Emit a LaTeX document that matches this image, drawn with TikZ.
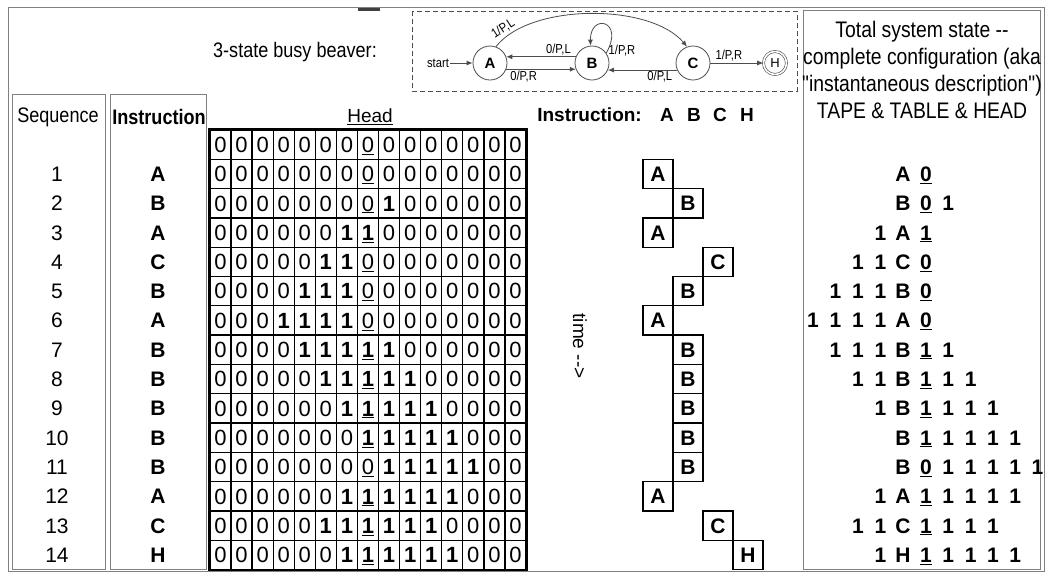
\documentclass[tikz,border=0pt]{standalone}
\usepackage{fontspec}
\setmainfont{Liberation Sans}
\newfontfamily\narrowsf[FakeStretch=0.86]{Liberation Sans}
\usetikzlibrary{arrows.meta,positioning}

% one tape square: #1 = bit, #2 = column (head sits in column 7)
\newcommand{\tapedigit}[2]{%
  \ifnum#2=7 \underline{\ifnum#1=1 \textbf{1}\else 0\fi}%
  \else\ifnum#1=1 \textbf{1}\else 0\fi\fi}

\begin{document}
\begin{tikzpicture}[x=1pt,y=-1pt,
    panel/.style={draw=black!50,line width=0.9pt},
    cell/.style={draw,line width=1.3pt,minimum width=21.07pt,minimum height=29.3pt,
      inner sep=0pt,font=\fontsize{22}{24}\selectfont,text height=15.6pt,text depth=0pt},
    listtext/.style={inner sep=0pt,font=\fontsize{21}{24}\selectfont,
      text height=15pt,text depth=0pt},
    insbox/.style={draw,line width=1.3pt,minimum width=30pt,minimum height=29.3pt,
      inner sep=0pt,font=\bfseries\fontsize{21}{24}\selectfont,text height=15pt,text depth=0pt},
    cfg/.style={inner sep=0pt,font=\bfseries\fontsize{21}{24}\selectfont,
      text height=15pt,text depth=0pt},
    headtext/.style={inner sep=0pt,font=\narrowsf\fontsize{21}{24}\selectfont},
    state/.style={circle,draw=black!70,line width=0.8pt,minimum size=34pt,inner sep=0pt,
      font=\bfseries\fontsize{15}{16}\selectfont},
    halt/.style={circle,draw=black!70,double,line width=0.6pt,double distance=1.6pt,
      minimum size=23pt,inner sep=0pt,font=\fontsize{13}{14}\selectfont},
    fsm/.style={-{Latex[length=6pt,width=5pt]},draw=black!70,line width=0.8pt},
    fsmlabel/.style={inner sep=1pt,font=\narrowsf\fontsize{13}{14}\selectfont}
  ]
  \useasboundingbox (0,0) rectangle (1046,574);

  % frames
  \draw[panel] (8,7) rectangle (1044,571);
  \draw[panel] (12,94) rectangle (105,569);
  \draw[panel] (110,94) rectangle (206,569);
  \draw[panel] (803,10) rectangle (1040,569);
  \draw[line width=3pt,black!75] (358,9.5) -- (380,9.5);

  % state diagram
  \node[headtext,anchor=east,font=\narrowsf\fontsize{21}{24}\selectfont] (bbtitle) at (377,52) {3-state busy beaver:};
  \draw[dashed,dash pattern=on 5pt off 3pt,black!70,line width=0.8pt] (412,11) rectangle (797,91);
  \node[state] (A) at (490,63) {A};
  \node[state] (B) at (592,63) {B};
  \node[state] (C) at (693,63) {C};
  \node[halt] (H) at (775,63) {H};
  \node[fsmlabel] (start) at (438,63) {start};
  \draw[fsm] (start) -- (A);
  \draw[fsm] (A.-21) -- node[fsmlabel,pos=0.25,below] {0/P,R} (B.201);
  \draw[fsm] (B.159) -- node[fsmlabel,pos=0.25,above] {0/P,L} (A.21);
  \draw[fsm] (C.204) -- node[fsmlabel,pos=0.25,below] {0/P,L} (B.-24);
  \draw[fsm] (C) -- node[fsmlabel,pos=0.35,above] {1/P,R} (H);
  \draw[fsm] (A.70) .. controls (530,3) and (650,3) .. (C.110);
  \node[fsmlabel,rotate=33] (lblAC) at (503,29) {1/P,L};
  \draw[fsm] (B.35) .. controls (625,20) and (590,13) .. node[fsmlabel,pos=0.02,right] {1/P,R} (B.95);

  % column headings
  \node[headtext] (seqhead) at (58,117) {Sequence};
  \node[headtext,font=\narrowsf\bfseries\fontsize{21}{24}\selectfont] (inshead) at (159,117) {Instruction};
  \node[inner sep=0pt,font=\fontsize{19}{22}\selectfont] (head) at (370,117) {\underline{Head}};
  \node[inner sep=0pt,anchor=east,font=\bfseries\fontsize{19}{22}\selectfont] (timehead) at (642,115) {Instruction:};
  \foreach \l/\hx in {A/667,B/694,C/720,H/747}
    \node[inner sep=0pt,font=\bfseries\fontsize{19}{22}\selectfont] (timehead-\l) at (\hx,115) {\l};
  \node[headtext,align=center,font=\narrowsf\fontsize{22.5}{27}\selectfont] (totalhead) at (922,70)
    {Total system state -{}-\\complete configuration (aka\\"instantaneous description")\\TAPE \& TABLE \& HEAD};

  % the tape, row 0 is the blank start
  \foreach \r/\lo/\hi in {0/99/0,1/99/0,2/8/8,3/6/7,4/5/6,5/4/6,6/3/6,7/4/8,8/5/9,9/6/10,
      10/7/11,11/8/12,12/6/11,13/5/10,14/6/11}{
    \pgfmathsetmacro{\y}{144.65+29.3*\r}
    \foreach \c in {0,...,14}{
      \pgfmathtruncatemacro{\bit}{and(\c>=\lo,\c<=\hi)}
      \node[cell] (t-\r-\c) at ({220.5+21.07*\c},\y) {\tapedigit{\bit}{\c}};
    }
  }
  \draw[line width=2.2pt] (t-0-0.north west) rectangle (t-14-14.south east);

  % sequence, instruction, time line and configurations
  \foreach \k/\s/\col/\lft/\hd/\rgt in {1/A/0/0/0/0,2/B/1/0/0/1,3/A/0/1/1/0,4/C/2/2/0/0,
      5/B/1/3/0/0,6/A/0/4/0/0,7/B/1/3/1/1,8/B/1/2/1/2,9/B/1/1/1/3,10/B/1/0/1/4,
      11/B/1/0/0/5,12/A/0/1/1/4,13/C/2/2/1/3,14/H/3/1/1/4}{
    \pgfmathsetmacro{\y}{144.65+29.3*\k}
    \node[listtext] (seq-\k) at (57,\y) {\k};
    \node[listtext,font=\bfseries\fontsize{21}{24}\selectfont] (instr-\k) at (158,\y) {\s};
    \node[insbox] (box-\k) at ({658+30*\col},\y) {\s};
    \node[cfg] (cfg-\k) at (903,\y) {\s};
    \node[cfg] (cfgh-\k) at (926,\y) {\underline{\hd}};
    \ifnum\lft>0
      \foreach \j in {1,...,\lft}{\node[cfg] (cfgl-\k-\j) at ({903-22.5*\j},\y) {1};}
    \fi
    \ifnum\rgt>0
      \foreach \j in {1,...,\rgt}{\node[cfg] (cfgr-\k-\j) at ({926+22.3*\j},\y) {1};}
    \fi
  }
  \node[rotate=-90,inner sep=0pt,font=\fontsize{19}{22}\selectfont] (time) at (580,346) {time -{}->};
\end{tikzpicture}
\end{document}
